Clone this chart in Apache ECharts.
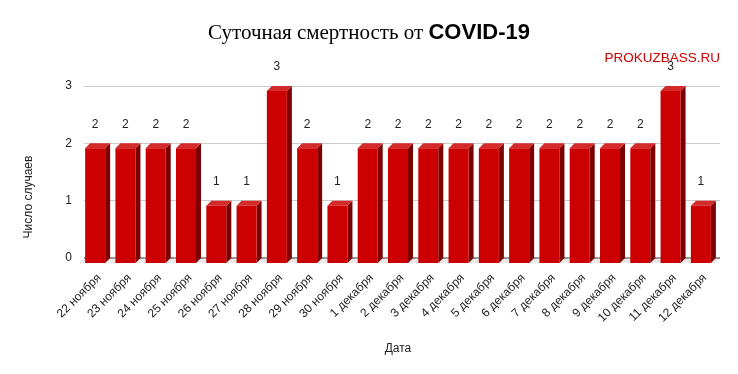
<!DOCTYPE html>
<html>
<head>
<meta charset="utf-8">
<script src="https://cdn.jsdelivr.net/npm/echarts@6/dist/echarts.min.js"></script>
<style>html,body{margin:0;padding:0;background:#fff}#c{width:738px;height:374px}</style>
</head>
<body>
<div id="c"></div>
<script>
var categories = ['22 ноября','23 ноября','24 ноября','25 ноября','26 ноября','27 ноября','28 ноября','29 ноября','30 ноября','1 декабря','2 декабря','3 декабря','4 декабря','5 декабря','6 декабря','7 декабря','8 декабря','9 декабря','10 декабря','11 декабря','12 декабря'];
var deaths = [2,2,2,2,1,1,3,2,1,2,2,2,2,2,2,2,2,2,2,3,1];
var yTicks = [0,1,2,3];

var chart = echarts.init(document.getElementById('c'));
var D = 5, W = 20;
function renderItem(params, api) {
  var idx = api.value(0), val = api.value(1);
  var top = api.coord([idx, val]);
  var base = api.coord([idx, 0]);
  var band = api.size([1, 0])[0];
  var cx = top[0];
  var bl = cx - 9;
  var t = top[1], b = base[1];
  var bs = cx - band / 2, be = cx + band / 2;
  return {
    type: 'group',
    children: [
      {type: 'polygon', shape: {points: [[bs, b], [be, b], [be - D, b + D], [bs - D, b + D]]}, style: {fill: '#e9e9e9'}},
      {type: 'line', shape: {x1: bs, y1: b, x2: be, y2: b}, style: {stroke: '#333', lineWidth: 1}},
      {type: 'polygon', shape: {points: [[bl - D + W, t + D], [bl + W, t], [bl + W, b], [bl - D + W, b + D]]}, style: {fill: '#7d0000'}},
      {type: 'polygon', shape: {points: [[bl - D, t + D], [bl, t], [bl + W, t], [bl - D + W, t + D]]}, style: {fill: '#d42a2a'}},
      {type: 'rect', shape: {x: bl - D, y: t + D, width: W, height: b - t}, style: {fill: '#cc0000'}},
      {type: 'text', x: bl - D + W / 2, y: t - 19, style: {text: String(val), fill: '#222', font: '12px "Liberation Sans", Arial, sans-serif', align: 'center', verticalAlign: 'middle'}}
    ]
  };
}

chart.setOption({
  animation: false,
  title: {
    text: '{a|Суточная смертность от }{b|COVID-19}',
    left: 'center', top: 17,
    textStyle: {
      rich: {
        a: {fontFamily: '"Liberation Serif", "DejaVu Serif", serif', fontSize: 21, fontWeight: 'normal', color: '#000'},
        b: {fontFamily: '"Liberation Sans", Arial, sans-serif', fontSize: 22, fontWeight: 'bold', color: '#000'}
      }
    }
  },
  graphic: [
    {type: 'text', right: 18, top: 51, style: {text: 'PROKUZBASS.RU', fill: '#cc0000', font: '13.5px "Liberation Sans", Arial, sans-serif'}},
    {type: 'text', x: 29, y: 197, rotation: Math.PI / 2, style: {text: 'Число случаев', fill: '#222', font: '12px "Liberation Sans", Arial, sans-serif', align: 'center', verticalAlign: 'middle'}},
    {type: 'text', x: 398, y: 349, style: {text: 'Дата', fill: '#222', font: '12px "Liberation Sans", Arial, sans-serif', align: 'center', verticalAlign: 'middle'}}
  ],
  grid: {left: 84, right: 18, top: 86, bottom: 116},
  xAxis: {
    type: 'category', data: categories,
    axisLine: {show: false}, axisTick: {show: false},
    axisLabel: {rotate: 45, margin: 18, color: '#222', fontSize: 12, fontFamily: '"Liberation Sans", Arial, sans-serif', interval: 0}
  },
  yAxis: {
    type: 'value', min: yTicks[0], max: yTicks[yTicks.length - 1], interval: 1,
    axisLine: {show: false}, axisTick: {show: false},
    axisLabel: {margin: 12, color: '#222', fontSize: 12, fontFamily: '"Liberation Sans", Arial, sans-serif'},
    splitLine: {lineStyle: {color: '#cccccc'}}
  },
  series: [{
    type: 'custom', renderItem: renderItem,
    encode: {x: 0, y: 1},
    data: deaths.map(function (v, i) { return [i, v]; }),
    clip: false
  }]
});
</script>
</body>
</html>
